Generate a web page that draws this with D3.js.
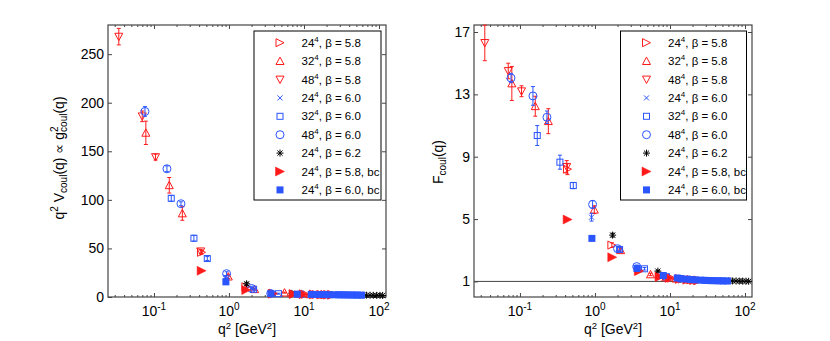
<!DOCTYPE html>
<html><head><meta charset="utf-8">
<script src="https://cdn.jsdelivr.net/npm/d3@7"></script>
<style>
body{margin:0;background:#fff}
svg{display:block}
text{font-family:"Liberation Sans",Arial,Helvetica,sans-serif;fill:#000}
</style>
</head><body>
<svg id="c" width="830" height="341"></svg>
<script>
// ---------------- data ----------------
const xMajor = [0.1, 1, 10, 100];
const xMajorExp = ["-1", "0", "1", "2"];
const yTicksV = [0, 50, 100, 150, 200, 250];
const yTicksF = [1, 5, 9, 13, 17];

const legLattice = ["24", "32", "48", "24", "32", "48", "24", "24", "24"];
const legRest = [", β = 5.8", ", β = 5.8", ", β = 5.8", ", β = 6.0", ", β = 6.0", ", β = 6.0", ", β = 6.2", ", β = 5.8, bc", ", β = 6.0, bc"];

// 24^4, beta=5.8
const q2_24_58 = [0.43, 1.68, 3.9, 7.2, 10.5, 14.5, 19.0, 24.0];
const V_24_58  = [46, 10.5, 3.8, 3.1, 2.8, 2.6, 2.4, 2.3];
const dV_24_58 = [2, 1, 0, 0, 0, 0, 0, 0];
const F_24_58  = [8.2, 3.33, 1.68, 1.32, 1.21, 1.15, 1.10, 1.07];
const dF_24_58 = [0.35, 0.15, 0.08, 0, 0, 0, 0, 0];
// 32^4, beta=5.8
const q2_32_58 = [0.078, 0.16, 0.239, 0.98, 2.2, 5.5, 8.8, 12.0, 17.0];
const V_32_58  = [169, 115, 86, 21, 8.0, 4.5, 3.2, 2.8, 2.5];
const dV_32_58 = [12, 8, 7, 2, 1, 0.5, 0, 0, 0];
const F_32_58  = [13.7, 12.24, 11.28, 5.6, 3.0, 1.45, 1.26, 1.18, 1.12];
const dF_32_58 = [1.09, 0.64, 0.8, 0.25, 0.12, 0.08, 0, 0, 0];
// 48^4, beta=5.8
const q2_48_58 = [0.034, 0.0698, 0.105, 0.42];
const V_48_58  = [268, 186, 144, 47];
const dV_48_58 = [8.5, 5.5, 3, 2];
const F_48_58  = [16.3, 14.5, 13.2, 8.35];
const dF_48_58 = [1.14, 0.5, 0.35, 0.4];
// 24^4, beta=6.0
const q2_24_60 = [0.90, 3.6, 8.0, 13.0, 20.0, 30.0];
const V_24_60  = [20.5, 3.4, 2.8, 2.5, 2.3, 2.1];
const dV_24_60 = [1.5, 0, 0, 0, 0, 0];
const F_24_60  = [5.12, 1.88, 1.36, 1.19, 1.10, 1.06];
const dF_24_60 = [0.25, 0.08, 0, 0, 0, 0];
// 32^4, beta=6.0
const q2_32_60 = [0.170, 0.341, 0.514, 2.13, 4.57, 9.0, 14.0, 20.0];
const V_32_60  = [101.6, 60.5, 39.6, 8.0, 3.4, 2.8, 2.5, 2.3];
const dV_32_60 = [3, 3, 2, 1, 0.5, 0, 0, 0];
const F_32_60  = [10.36, 8.65, 7.15, 3.05, 1.81, 1.30, 1.16, 1.10];
const dF_32_60 = [0.64, 0.45, 0.2, 0.12, 0.08, 0, 0, 0];
// 48^4, beta=6.0
const q2_48_60 = [0.0759, 0.149, 0.229, 0.93, 2.0, 3.6];
const V_48_60  = [191, 132, 96, 24, 8.8, 3.6];
const dV_48_60 = [5, 3, 2, 2, 1, 0.5];
const F_48_60  = [14.05, 12.9, 11.53, 5.94, 3.1, 1.95];
const dF_48_60 = [0.3, 0.6, 0.4, 0.25, 0.15, 0.1];
// 24^4, beta=6.2
const q2_24_62 = [1.72, 6.9, 14.0, 61, 68, 76, 84, 93, 103, 112];
const V_24_62  = [13.6, 3.8, 2.6, 1.9, 1.85, 1.8, 1.75, 1.7, 1.65, 1.6];
const dV_24_62 = [1.5, 0.5, 0, 0, 0, 0, 0, 0, 0, 0];
const F_24_62  = [3.97, 1.66, 1.15, 1.04, 1.03, 1.03, 1.02, 1.02, 1.01, 1.01];
const dF_24_62 = [0.12, 0.06, 0, 0, 0, 0, 0, 0, 0, 0];
// 24^4, beta=5.8, bc
const q2_24_58bc = [0.432, 1.70, 3.84, 7.3, 9.9, 13.5, 17.0, 21.0, 23.5];
const V_24_58bc  = [27, 7.2, 3.3, 3.0, 2.8, 2.6, 2.5, 2.4, 2.3];
const F_24_58bc  = [4.97, 2.55, 1.66, 1.29, 1.22, 1.15, 1.11, 1.08, 1.06];
// 24^4, beta=6.0, bc
const q2_24_60bc = [0.91, 3.63, 8.13, 12.5, 13.9, 16.5, 18.9, 22.0, 25.7, 29.0, 31.6, 35.0, 38.7, 43.0, 47.5, 52.0, 58.5];
const V_24_60bc  = [15.6, 3.4, 2.9, 2.7, 2.6, 2.55, 2.5, 2.4, 2.3, 2.3, 2.2, 2.2, 2.1, 2.1, 2.0, 2.0, 1.9];
const F_24_60bc  = [3.76, 1.83, 1.38, 1.22, 1.18, 1.15, 1.12, 1.10, 1.08, 1.07, 1.06, 1.05, 1.05, 1.04, 1.04, 1.03, 1.03];

// ---------------- styles ----------------
const RED = "#ff1a1a", BLUE = "#2a55ff", BLACK = "#000";
const zeros = a => a.map(() => 0);
const series = [
  {sym: "rtri", color: RED, q2: q2_24_58, V: V_24_58, dV: dV_24_58, F: F_24_58, dF: dF_24_58},
  {sym: "utri", color: RED, q2: q2_32_58, V: V_32_58, dV: dV_32_58, F: F_32_58, dF: dF_32_58},
  {sym: "dtri", color: RED, q2: q2_48_58, V: V_48_58, dV: dV_48_58, F: F_48_58, dF: dF_48_58},
  {sym: "cross", color: BLUE, q2: q2_24_60, V: V_24_60, dV: dV_24_60, F: F_24_60, dF: dF_24_60},
  {sym: "square", color: BLUE, q2: q2_32_60, V: V_32_60, dV: dV_32_60, F: F_32_60, dF: dF_32_60},
  {sym: "circle", color: BLUE, q2: q2_48_60, V: V_48_60, dV: dV_48_60, F: F_48_60, dF: dF_48_60},
  {sym: "star", color: BLACK, q2: q2_24_62, V: V_24_62, dV: dV_24_62, F: F_24_62, dF: dF_24_62},
  {sym: "frtri", color: RED, q2: q2_24_58bc, V: V_24_58bc, dV: zeros(q2_24_58bc), F: F_24_58bc, dF: zeros(q2_24_58bc)},
  {sym: "fsquare", color: BLUE, q2: q2_24_60bc, V: V_24_60bc, dV: zeros(q2_24_60bc), F: F_24_60bc, dF: zeros(q2_24_60bc)}
];

const svg = d3.select("#c");
const AX = "#454545";

function marker(g, sym, x, y, color) {
  const open = {fill: "none", stroke: color, "stroke-width": 1};
  let el;
  const s = 4;
  switch (sym) {
    case "rtri": el = g.append("path").attr("d", `M${x-s},${y-s}L${x+s},${y}L${x-s},${y+s}Z`); break;
    case "utri": el = g.append("path").attr("d", `M${x},${y-s}L${x+s},${y+3.4}L${x-s},${y+3.4}Z`); break;
    case "dtri": el = g.append("path").attr("d", `M${x},${y+s}L${x+s},${y-3.4}L${x-s},${y-3.4}Z`); break;
    case "square": el = g.append("rect").attr("x", x-3).attr("y", y-3).attr("width", 6).attr("height", 6); break;
    case "circle": el = g.append("circle").attr("cx", x).attr("cy", y).attr("r", 4); break;
    case "cross": el = g.append("path").attr("d", `M${x-2.5},${y-2.5}L${x+2.5},${y+2.5}M${x-2.5},${y+2.5}L${x+2.5},${y-2.5}`); break;
    case "star": {
      const a = 3.5, b = 2.6;
      el = g.append("path").attr("d", `M${x-a},${y}L${x+a},${y}M${x},${y-a}L${x},${y+a}M${x-b},${y-b}L${x+b},${y+b}M${x-b},${y+b}L${x+b},${y-b}`);
      break;
    }
    case "frtri": {
      const t = 4.5;
      g.append("path").attr("d", `M${x-t},${y-t}L${x+t},${y}L${x-t},${y+t}Z`).attr("fill", color).attr("stroke", color).attr("stroke-width", 0.5);
      return;
    }
    case "fsquare":
      g.append("rect").attr("x", x-3.5).attr("y", y-3.5).attr("width", 7).attr("height", 7).attr("fill", color);
      return;
  }
  for (const k in open) el.attr(k, open[k]);
}

function panel(opt) {
  const {x0, x1, y0, y1, ydom, yticks, key, ekey, leg} = opt;
  const x = d3.scaleLog().domain([0.0244, 124]).range([x0, x1]);
  const y = d3.scaleLinear().domain(ydom).range([y1, y0]);
  const g = svg.append("g");

  if (opt.refLine) {
    g.append("line").attr("x1", x0).attr("x2", x1).attr("y1", y(1)).attr("y2", y(1))
      .attr("stroke", AX).attr("stroke-width", 1);
  }

  // minor ticks
  const minor = [];
  [0.01, 0.1, 1, 10, 100].forEach(d => { for (let m = 2; m <= 9; m++) { const v = d * m; if (v > 0.0244 && v < 124) minor.push(v); } });

  const styleAxis = sel => { sel.select(".domain").remove(); sel.selectAll("line").attr("stroke", AX); };
  g.append("g").attr("transform", `translate(0,${y1})`).call(d3.axisBottom(x).tickValues(xMajor).tickSize(-4).tickFormat(() => "")).call(styleAxis);
  g.append("g").attr("transform", `translate(0,${y1})`).call(d3.axisBottom(x).tickValues(minor).tickSize(-2).tickFormat(() => "")).call(styleAxis);
  g.append("g").attr("transform", `translate(0,${y0})`).call(d3.axisTop(x).tickValues(xMajor).tickSize(-4).tickFormat(() => "")).call(styleAxis);
  g.append("g").attr("transform", `translate(0,${y0})`).call(d3.axisTop(x).tickValues(minor).tickSize(-2).tickFormat(() => "")).call(styleAxis);
  const ya = g.append("g").attr("transform", `translate(${x0},0)`).call(d3.axisLeft(y).tickValues(yticks).tickSize(-4).tickPadding(4)).call(styleAxis);
  ya.selectAll("text").attr("font-size", 14).attr("font-family", '"Liberation Sans",Arial,sans-serif').attr("fill", "#000");
  g.append("g").attr("transform", `translate(${x1},0)`).call(d3.axisRight(y).tickValues(yticks).tickSize(-4).tickFormat(() => "")).call(styleAxis);

  // x tick labels 10^n
  xMajor.forEach((v, i) => {
    const t = g.append("text").attr("x", x(v)).attr("y", 316).attr("text-anchor", "middle").attr("font-size", 14);
    t.append("tspan").text("10");
    t.append("tspan").attr("dy", -6).attr("font-size", 10).text(xMajorExp[i]);
  });

  // frame
  g.append("rect").attr("x", x0).attr("y", y0).attr("width", x1 - x0).attr("height", y1 - y0)
    .attr("fill", "none").attr("stroke", AX).attr("stroke-width", 1.2);

  // x label
  const xl = g.append("text").attr("x", (x0 + x1) / 2).attr("y", 334).attr("text-anchor", "middle").attr("font-size", 14);
  xl.append("tspan").text("q");
  xl.append("tspan").attr("dy", -5).attr("font-size", 9.5).text("2");
  xl.append("tspan").attr("dy", 5).text(" [GeV");
  xl.append("tspan").attr("dy", -5).attr("font-size", 9.5).text("2");
  xl.append("tspan").attr("dy", 5).text("]");

  // data: error bars then markers
  series.forEach(s => {
    const sg = g.append("g");
    s.q2.forEach((q, i) => {
      const e = s[ekey][i];
      if (e > 0) {
        const xx = x(q), ya2 = y(s[key][i] + e), yb = y(s[key][i] - e);
        sg.append("path").attr("d", `M${xx},${ya2}L${xx},${yb}M${xx-2},${ya2}L${xx+2},${ya2}M${xx-2},${yb}L${xx+2},${yb}`)
          .attr("stroke", s.color).attr("stroke-width", 1).attr("fill", "none");
      }
      marker(sg, s.sym, x(q), y(s[key][i]), s.color);
    });
  });

  // legend
  const lg = g.append("g");
  lg.append("rect").attr("x", leg.x).attr("y", 31).attr("width", leg.w).attr("height", 169)
    .attr("fill", "#fff").attr("stroke", "#000").attr("stroke-width", 1);
  series.forEach((s, i) => {
    const cy = 42.7 + i * 18.4;
    marker(lg, s.sym, leg.x + 26, cy, s.color);
    const t = lg.append("text").attr("x", leg.x + 47.5).attr("y", cy + 4).attr("font-size", 11.5);
    t.append("tspan").text(legLattice[i]);
    t.append("tspan").attr("dy", -5).attr("font-size", 8).text("4");
    t.append("tspan").attr("dy", 5).text(legRest[i]);
  });
  return {x, y};
}

panel({x0: 108, x1: 386, y0: 25, y1: 297, ydom: [0, 280], yticks: yTicksV, key: "V", ekey: "dV", leg: {x: 254, w: 127}});
panel({x0: 474, x1: 752, y0: 25, y1: 297, ydom: [0, 17.45], yticks: yTicksF, key: "F", ekey: "dF", leg: {x: 620.5, w: 126}, refLine: true});

// y labels
const yl1 = svg.append("text").attr("transform", "translate(64,158) rotate(-90)").attr("text-anchor", "middle").attr("font-size", 14);
yl1.append("tspan").text("q");
yl1.append("tspan").attr("dy", -6).attr("font-size", 10).text("2");
yl1.append("tspan").attr("dy", 6).text(" V");
yl1.append("tspan").attr("dy", 3).attr("font-size", 10).text("coul");
yl1.append("tspan").attr("dy", -3).text("(q) ∝ g");
yl1.append("tspan").attr("dy", -6).attr("font-size", 10).text("2");
yl1.append("tspan").attr("dx", -5.56).attr("dy", 9).attr("font-size", 10).text("coul");
yl1.append("tspan").attr("dy", -3).text("(q)");

const yl2 = svg.append("text").attr("transform", "translate(443,162) rotate(-90)").attr("text-anchor", "middle").attr("font-size", 14);
yl2.append("tspan").text("F");
yl2.append("tspan").attr("dy", 3).attr("font-size", 10).text("coul");
yl2.append("tspan").attr("dy", -3).text("(q)");
</script>
</body></html>
